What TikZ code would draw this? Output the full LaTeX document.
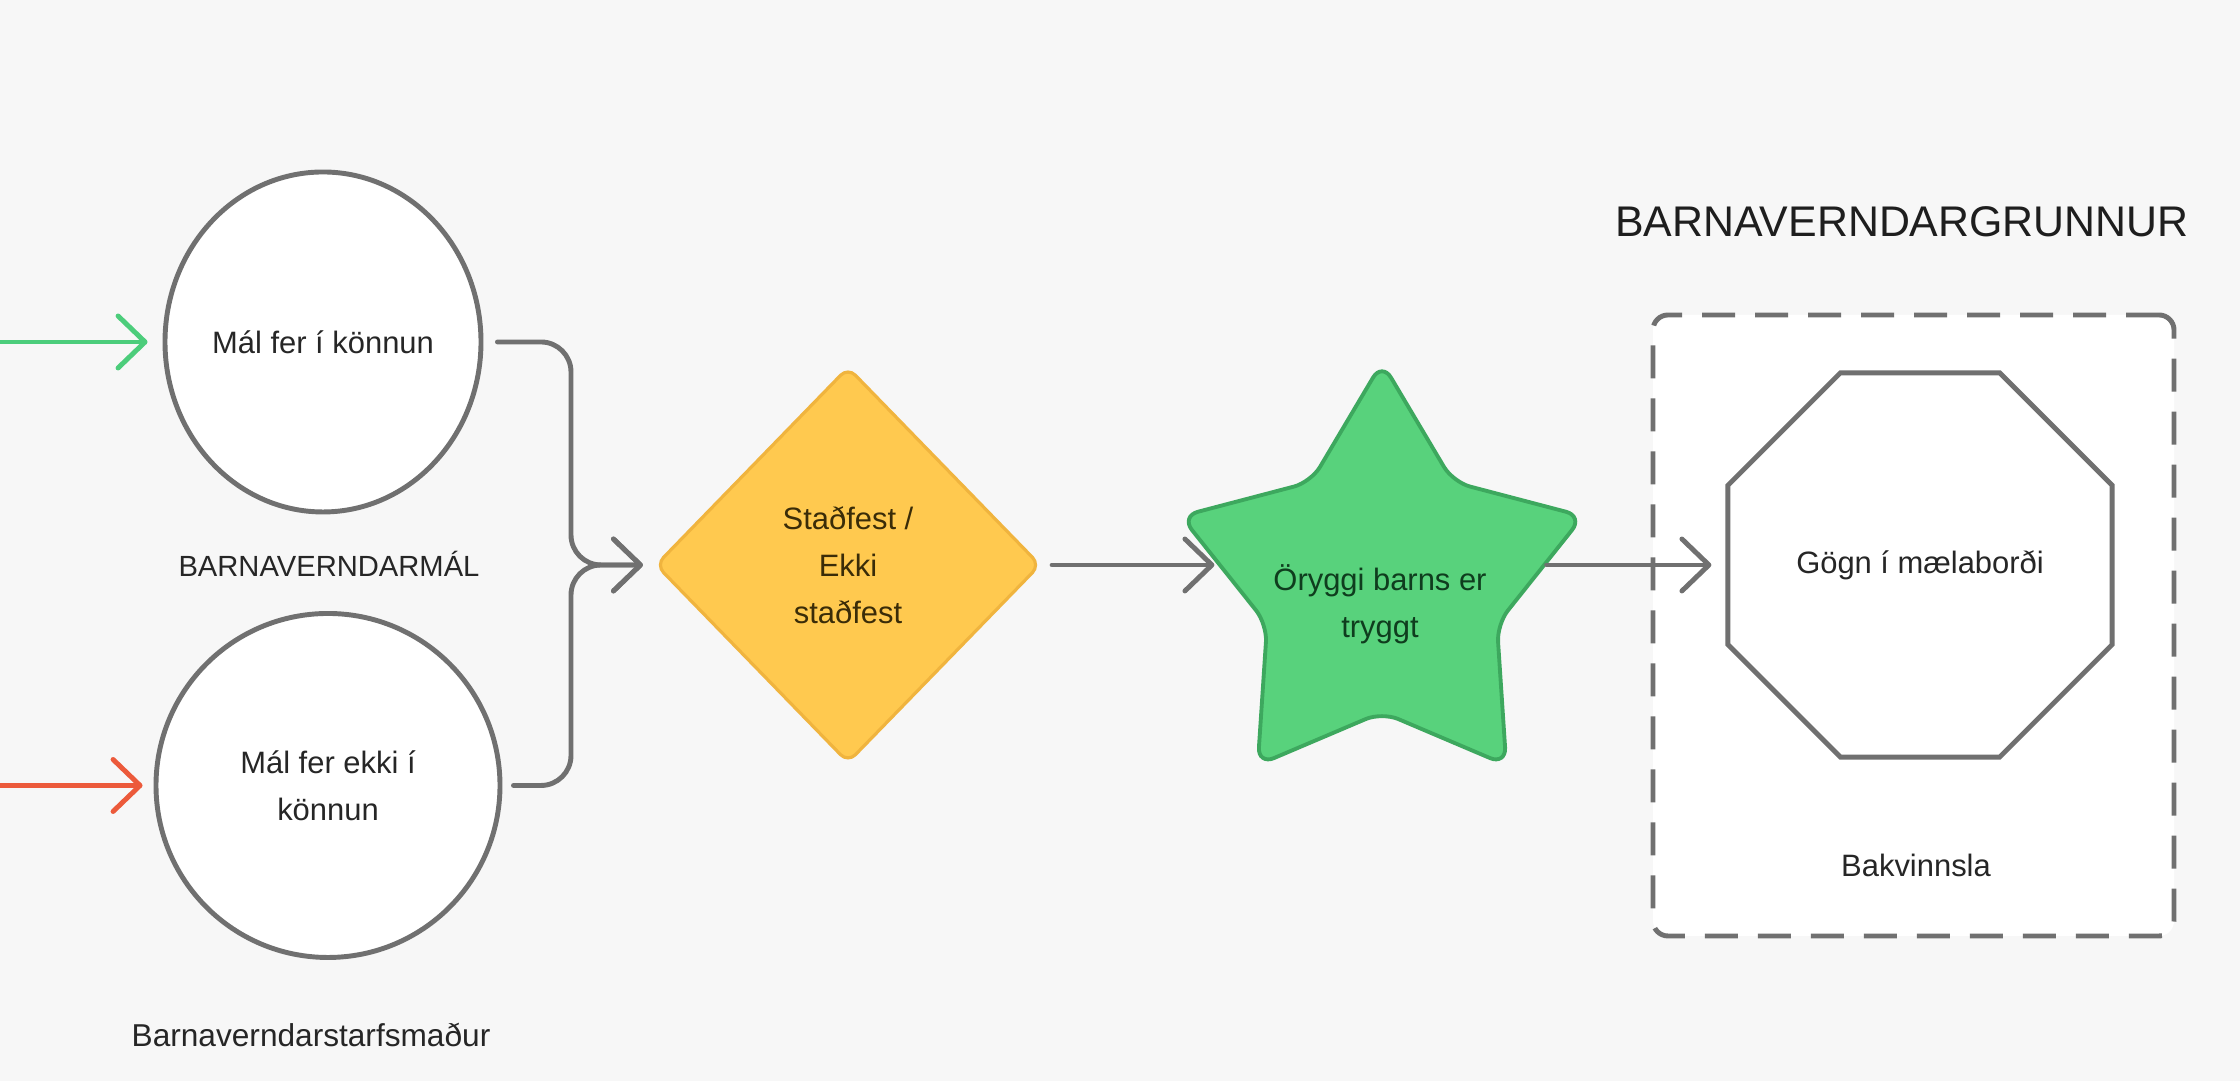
\documentclass[tikz,border=0pt]{standalone}
\usepackage{fontspec}
\setmainfont{Liberation Sans}
\usepackage{xcolor}
\usepackage{tikz}
\usetikzlibrary{positioning}
\usetikzlibrary{calc}
\usetikzlibrary{shapes.geometric}
\usetikzlibrary{arrows.meta}
\definecolor{bg}{HTML}{F7F7F7}
\definecolor{edge}{HTML}{707070}
\definecolor{ink}{HTML}{262626}
\definecolor{headink}{HTML}{1E1E1E}
\definecolor{gold}{HTML}{FFC94F}
\definecolor{golddark}{HTML}{F0B43E}
\definecolor{goldink}{HTML}{3A2C08}
\definecolor{leaf}{HTML}{58D27C}
\definecolor{leafdark}{HTML}{3DA85E}
\definecolor{leafink}{HTML}{0F3D1E}
\definecolor{goin}{HTML}{4CCD7B}
\definecolor{stopin}{HTML}{EC5A3B}
\tikzset{circ/.style={ellipse, draw=edge, line width=1.4pt, fill=white, inner sep=0pt, align=center}}
\tikzset{flow/.style={draw=edge, line width=1.4pt, line cap=round, -{Straight Barb[length=2.7mm,width=5.2mm,round]}}}
\tikzset{dashbox/.style={rectangle, draw=edge, fill=white, line width=1.4pt, rounded corners=1.5mm, dash pattern=on 3.3mm off 2mm}}
\tikzset{bodyfont/.style={font=\fontsize{8.8}{13.4}\selectfont}}

\begin{document}
\begin{tikzpicture}[every node/.style={bodyfont, text=ink}]
\useasboundingbox (0,0) rectangle (22.4,10.81);
\fill[bg] (0,0) rectangle (22.4,10.81);

\node[dashbox, minimum width=5.21cm, minimum height=6.21cm] (grunnur) at (19.135,4.555) {};
\node[anchor=base, font=\fontsize{12.2}{14}\selectfont, text=headink] (titill) at (19.02,8.44) {BARNAVERNDARGRUNNUR};

\node[circ, minimum width=3.16cm, minimum height=3.40cm] (up) at (3.23,7.39) {Mál fer í könnun};
\node[circ, minimum size=3.44cm] (down) at (3.28,2.955) {Mál fer ekki í\\könnun};
\node[anchor=base, font=\fontsize{8.3}{10}\selectfont] (mal) at (3.29,5.04) {BARNAVERNDARMÁL};
\node[anchor=base, font=\fontsize{9}{11}\selectfont] (starfs) at (3.11,0.34) {Barnaverndarstarfsmaður};

\node[diamond, draw=golddark, fill=gold, line width=0.9pt, rounded corners=3pt, minimum width=3.85cm, minimum height=3.96cm, inner sep=0pt, align=center, text=goldink] (dia) at (8.48,5.16) {Staðfest /\\Ekki\\staðfest};

\node[star, star points=5, star point ratio=1.75, draw=leafdark, fill=leaf, line width=1.1pt, rounded corners=5pt, minimum size=4.45cm, inner sep=0pt, xscale=0.95, transform shape] (stjarna) at (13.82,4.96) {};
\node[align=center, text=leafink] (oryggi) at (13.80,4.77) {Öryggi barns er\\tryggt};

\node[regular polygon, regular polygon sides=8, draw=edge, fill=white, line width=1.4pt, minimum size=4.16cm, inner sep=0pt] (oct) at (19.20,5.16) {Gögn í mælaborði};
\node[anchor=base] (bak) at (19.16,2.04) {Bakvinnsla};

\coordinate (inn1) at (0,7.39);
\coordinate (inn2) at (0,2.955);
\coordinate (join) at (5.71,5.16);

\draw[flow, draw=goin, shorten >=1.5mm] (inn1) -- (up.west);
\draw[flow, draw=stopin, shorten >=1.1mm] (inn2) -- (down.west);
\draw[flow, rounded corners=3mm, shorten <=1.4mm, shorten >=1.1mm] (up.east) -| (join) -- (dia.west);
\draw[flow, rounded corners=3mm, shorten <=1.1mm, shorten >=1.1mm] (down.east) -| (join) -- (dia.west);
\draw[flow, shorten <=1mm, shorten >=1.9mm] (dia.east) -- (dia.east -| stjarna.west);
\draw[flow, shorten <=1.6mm, shorten >=1.4mm] (stjarna.east |- oct.west) -- (oct.west);
\end{tikzpicture}
\end{document}
